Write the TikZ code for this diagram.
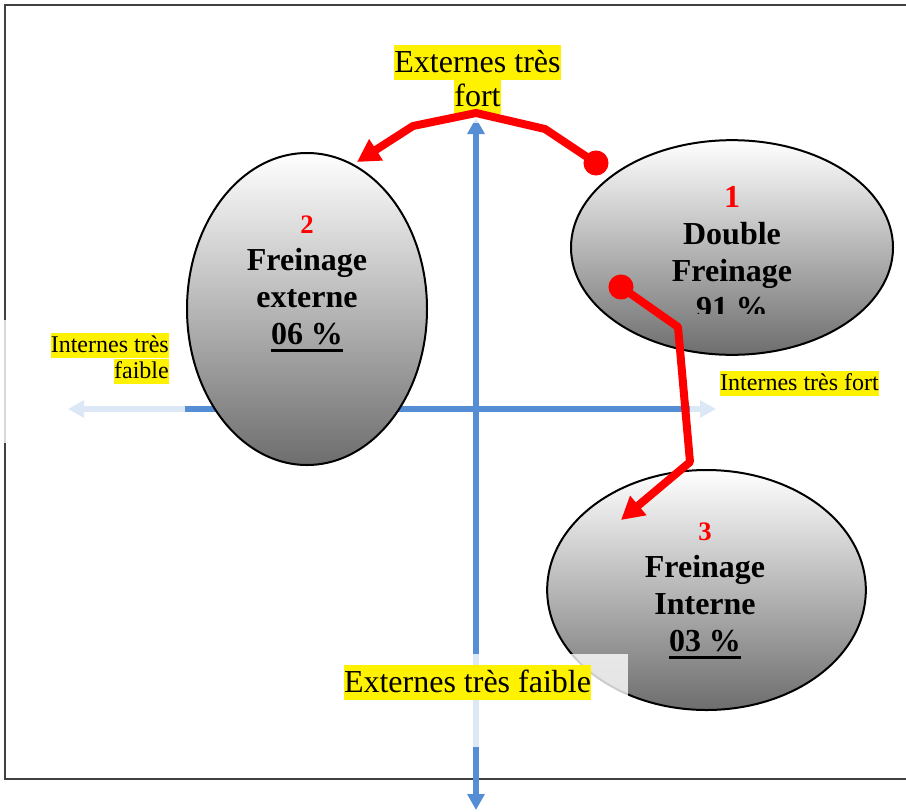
\documentclass[tikz,border=0pt]{standalone}
\usepackage{fontspec}
\setmainfont{Liberation Serif}
\usetikzlibrary{shapes.geometric,arrows.meta}
\definecolor{axisblue}{RGB}{85,142,213}
\newsavebox\soulbox
\newcommand\souligne[1]{\sbox\soulbox{#1}\rlap{\rule[-5.5pt]{\wd\soulbox}{2.2pt}}\usebox\soulbox}

\begin{document}
\begin{tikzpicture}[x=0.75pt, y=-0.75pt]
    \tikzstyle{every node}=[inner sep=0pt]
    \tikzstyle{zone}=[ellipse, draw=black, line width=1.5pt, top color=white, bottom color=black!57]
    \tikzstyle{zonetext}=[align=center, anchor=north, font=\fontsize{24}{27.75}\selectfont\bfseries]
    \tikzstyle{axe}=[draw=axisblue, line width=4.5pt, {Triangle[length=12pt,width=12.5pt]}-{Triangle[length=12pt,width=12.5pt]}]
    \tikzstyle{fleche}=[draw=red, line width=6pt, line join=round, -{Triangle[length=17pt,width=18pt]}]
    \tikzstyle{voile}=[fill=white, opacity=.8]
    \tikzstyle{grand}=[fill=yellow, font=\fontsize{24}{28}\selectfont, text height=21pt, text depth=5.5pt]
    \tikzstyle{petit}=[fill=yellow, font=\fontsize{18}{21}\selectfont, text height=14.5pt, text depth=4.5pt]
    \useasboundingbox (0,0) rectangle (906,811);
    % cadre
    \draw[black!75, line width=1.5pt] (906,5) -- (5,5) -- (5,779) -- (906,779);
    % axes
    \coordinate (ytop) at (476,118);
    \coordinate (ybot) at (476,810);
    \coordinate (xleft) at (68,409);
    \coordinate (xright) at (716,409);
    \draw[axe] (ybot) -- (ytop);
    \draw[axe] (xleft) -- (xright);
    % zones
    \node[zone, minimum width=180pt, minimum height=234pt] (e2) at (307,309) {};
    \node[zone, minimum width=241.5pt, minimum height=161pt] (e1) at (732,247.5) {};
    \node[zone, minimum width=239pt, minimum height=180pt] (e3) at (706.5,590) {};
    \node[zonetext] (t2) at (307,216) {{\fontsize{20}{27.75}\selectfont\color{red}2}\\ Freinage\\ externe\\ \souligne{06 \%}};
    \begin{scope}
        \clip (600,150) rectangle (870,313);
        \node[zonetext] (t1) at (732,186.5) {{\color{red}1}\\ Double\\ Freinage\\ 91 \%};
    \end{scope}
    \node[zonetext] (t3) at (705,523) {{\fontsize{20}{27.75}\selectfont\color{red}3}\\ Freinage\\ Interne\\ \souligne{03 \%}};
    % zones de texte
    \fill[voile] (390,40) rectangle (565,123);
    \fill[voile] (0,320) rectangle (185,443);
    \fill[voile] (690,362) rectangle (885,425);
    \fill[voile] (338,654) rectangle (628,747);
    \node[grand] (haut1) at (477.5,62.5) {Externes très};
    \node[grand] (haut2) at (477.5,96.5) {fort};
    \node[petit, anchor=east] (gauche1) at (169,345.5) {Internes très};
    \node[petit, anchor=east] (gauche2) at (169,371.5) {faible};
    \node[petit] (droite) at (799.5,383.5) {Internes très fort};
    \node[grand] (bas) at (467.5,682.5) {Externes très faible};
    % fleches
    \coordinate (d1) at (596,163);
    \coordinate (a1) at (545,129);
    \coordinate (a2) at (476,113);
    \coordinate (a3) at (413,126);
    \coordinate (p2) at (357,162);
    \coordinate (d2) at (621,287);
    \coordinate (b1) at (678,327);
    \coordinate (b2) at (690,462);
    \coordinate (p3) at (621,520);
    \fill[red] (d1) circle (9.4pt);
    \fill[red] (d2) circle (9.4pt);
    \draw[fleche] (d1) -- (a1) -- (a2) -- (a3) -- (p2);
    \draw[fleche] (d2) -- (b1) -- (b2) -- (p3);
\end{tikzpicture}
\end{document}
